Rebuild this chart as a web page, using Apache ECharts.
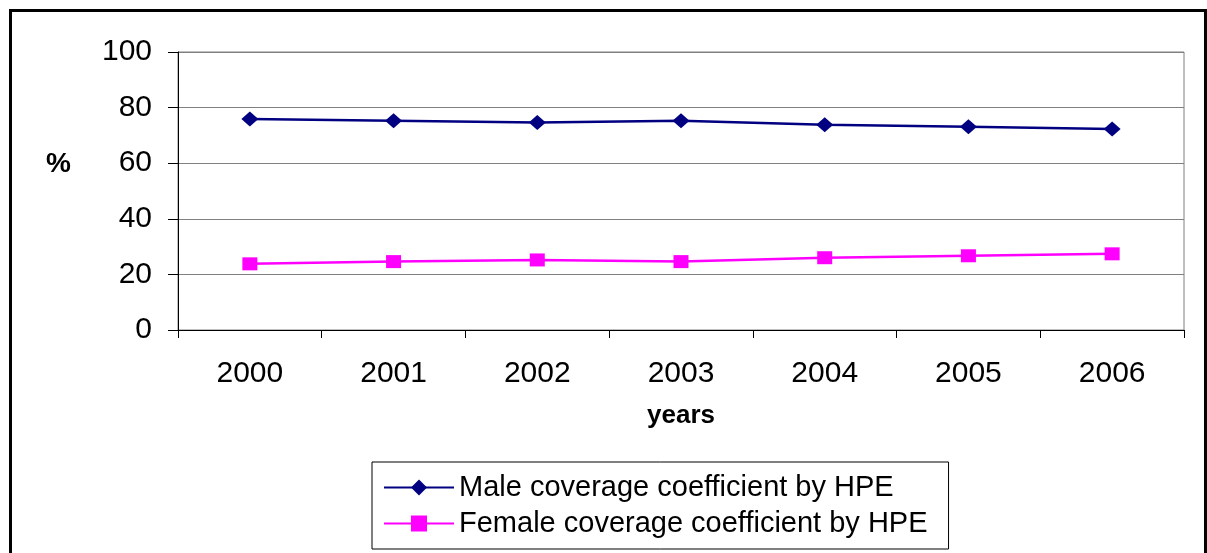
<!DOCTYPE html>
<html>
<head>
<meta charset="utf-8">
<script src="https://cdn.jsdelivr.net/npm/echarts@6/dist/echarts.min.js"></script>
<style>
  html, body { margin: 0; padding: 0; background: #fff; }
  #chart { width: 1207px; height: 553px; }
</style>
</head>
<body>
<div id="chart"></div>
<script>
// Coverage coefficients by HPE, in percent
const years = ['2000', '2001', '2002', '2003', '2004', '2005', '2006'];
const maleCoverage = [75.9, 75.3, 74.6, 75.3, 73.8, 73.1, 72.3];
const femaleCoverage = [23.8, 24.6, 25.2, 24.6, 26.0, 26.7, 27.4];
const yTicks = { min: 0, max: 100, interval: 20 };

const FONT = 'Liberation Sans, Arial, sans-serif';

const chart = echarts.init(document.getElementById('chart'), null, { renderer: 'canvas' });

chart.setOption({
  backgroundColor: '#ffffff',
  animation: false,
  graphic: [
    {
      type: 'rect',
      shape: { x: 10.5, y: 10.5, width: 1195, height: 560 },
      style: { fill: 'none', stroke: '#000', lineWidth: 3 },
      silent: true
    },
    {
      type: 'text',
      left: 46,
      top: 150,
      style: {
        text: '%',
        fontFamily: FONT,
        fontSize: 28,
        fontWeight: 'bold',
        fill: '#000'
      },
      silent: true
    }
  ],
  grid: {
    left: 178,
    top: 52,
    width: 1006,
    height: 278,
    show: true,
    borderColor: '#808080',
    borderWidth: 1,
    backgroundColor: 'transparent'
  },
  legend: {
    orient: 'vertical',
    left: 372,
    top: 462,
    padding: [11, 21, 11, 11],
    itemGap: 7,
    itemWidth: 70,
    itemHeight: 20,
    borderColor: '#000',
    borderWidth: 1,
    textStyle: { fontFamily: FONT, fontSize: 29, color: '#000' },
    data: ['Male coverage coefficient by HPE', 'Female coverage coefficient by HPE']
  },
  xAxis: {
    type: 'category',
    data: years,
    boundaryGap: true,
    name: 'years',
    nameLocation: 'middle',
    nameGap: 73,
    nameTextStyle: { fontFamily: FONT, fontSize: 26, fontWeight: 'bold', color: '#000' },
    axisLine: { lineStyle: { color: '#000', width: 1 } },
    axisTick: { show: true, length: 8, lineStyle: { color: '#000' } },
    axisLabel: { fontFamily: FONT, fontSize: 30, color: '#000', margin: 29 },
    splitLine: { show: false }
  },
  yAxis: {
    type: 'value',
    min: yTicks.min,
    max: yTicks.max,
    interval: yTicks.interval,
    axisLine: { show: true, lineStyle: { color: '#000', width: 1 } },
    axisTick: { show: true, length: 10, lineStyle: { color: '#000' } },
    axisLabel: { fontFamily: FONT, fontSize: 30, color: '#000', margin: 26 },
    splitLine: { show: true, lineStyle: { color: '#808080', width: 1 } }
  },
  series: [
    {
      name: 'Male coverage coefficient by HPE',
      type: 'line',
      data: maleCoverage,
      symbol: 'diamond',
      symbolSize: [17, 15],
      lineStyle: { color: '#000080', width: 2.5 },
      itemStyle: { color: '#000080' }
    },
    {
      name: 'Female coverage coefficient by HPE',
      type: 'line',
      data: femaleCoverage,
      symbol: 'rect',
      symbolSize: [15, 13],
      lineStyle: { color: '#ff00ff', width: 2.5 },
      itemStyle: { color: '#ff00ff' }
    }
  ]
});
</script>
</body>
</html>
